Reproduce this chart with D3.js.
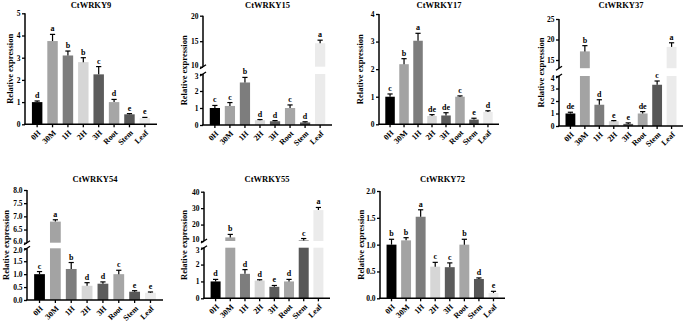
<!DOCTYPE html>
<html><head><meta charset="utf-8">
<script src="https://cdn.jsdelivr.net/npm/d3@7"></script>
<style>body{margin:0;background:#fff}svg{display:block}text{font-family:"Liberation Serif","Times New Roman",serif;font-weight:bold;fill:#000}</style>
</head><body><svg id="c" width="685" height="322"></svg>
<script>
const categories = ["0H","30M","1H","2H","3H","Root","Stem","Leaf"];
const barColors = ["#000000","#a3a3a3","#7d7d7d","#d6d6d6","#5c5c5c","#a6a6a6","#575757","#ebebeb"];

const wrky9 = [1.0,3.75,3.1,2.8,2.25,1.0,0.45,0.28];
const wrky9Err = [0.05,0.3,0.2,0.2,0.35,0.12,0.03,0.03];
const wrky9Sig = ["d","a","b","b","c","d","e","e"];
const wrky15 = [1.0,1.12,2.5,0.28,0.22,1.0,0.15,14.6];
const wrky15Err = [0.15,0.2,0.3,0.04,0.04,0.18,0.04,0.6];
const wrky15Sig = ["c","c","b","d","d","c","d","a"];
const wrky17 = [1.0,2.18,3.03,0.3,0.32,1.0,0.17,0.45];
const wrky17Err = [0.1,0.2,0.27,0.05,0.1,0.03,0.05,0.04];
const wrky17Sig = ["c","b","a","de","de","c","e","d"];
const wrky37 = [1.0,17.1,1.7,0.38,0.17,1.0,3.3,18.2];
const wrky37Err = [0.1,1.4,0.4,0.05,0.08,0.15,0.3,1.0];
const wrky37Sig = ["de","b","d","e","e","de","c","a"];
const wrky54 = [1.0,6.8,1.2,0.55,0.63,1.0,0.32,0.28];
const wrky54Err = [0.1,0.07,0.25,0.12,0.07,0.15,0.04,0.03];
const wrky54Sig = ["c","a","b","d","d","c","e","e"];
const wrky55 = [1.0,12.2,1.45,1.05,0.68,1.0,10.3,28.8];
const wrky55Err = [0.12,1.8,0.25,0.05,0.08,0.12,1.2,1.6];
const wrky55Sig = ["d","b","d","d","e","d","c","a"];
const wrky72 = [1.0,1.08,1.52,0.59,0.58,1.0,0.36,0.1];
const wrky72Err = [0.1,0.05,0.13,0.08,0.08,0.1,0.02,0.03];
const wrky72Sig = ["b","b","a","c","c","b","d","e"];

const ticks9 = [0,1,2,3,4,5];
const ticks15Low = [0,1,2,3], ticks15High = [10,15,20];
const ticks17 = [0,1,2,3,4];
const ticks37Low = [0,1,2,3,4], ticks37High = [15,20,25];
const ticks54Low = [0.0,0.5,1.0,1.5,2.0], ticks54High = [6.0,6.5,7.0,7.5,8.0];
const ticks55Low = [0,1,2,3], ticks55High = [10,20,30,40];
const ticks72 = [0.0,0.5,1.0,1.5,2.0];

// layout
const panels = [
 {title:"CtWRKY9", vals:wrky9, err:wrky9Err, sig:wrky9Sig, x0:25, x1:157, ylab:10,
  segs:[{dom:[0,5], rng:[124.3,13.3], ticks:ticks9, fmt:d3.format("d")}]},
 {title:"CtWRKY15", vals:wrky15, err:wrky15Err, sig:wrky15Sig, x0:203, x1:332, ylab:184,
  segs:[{dom:[0,3], rng:[125,74], ticks:ticks15Low, fmt:d3.format("d")},{dom:[10,20], rng:[66.7,15.7], ticks:ticks15High, fmt:d3.format("d")}]},
 {title:"CtWRKY17", vals:wrky17, err:wrky17Err, sig:wrky17Sig, x0:379, x1:499, ylab:360,
  segs:[{dom:[0,4], rng:[124.3,14], ticks:ticks17, fmt:d3.format("d")}]},
 {title:"CtWRKY37", vals:wrky37, err:wrky37Err, sig:wrky37Sig, x0:559, x1:683, ylab:541,
  segs:[{dom:[0,4], rng:[126,76], ticks:ticks37Low, fmt:d3.format("d")},{dom:[13,25], rng:[68.2,19], ticks:ticks37High, fmt:d3.format("d")}]},
 {title:"CtWRKY54", vals:wrky54, err:wrky54Err, sig:wrky54Sig, x0:27, x1:163, ylab:6,
  segs:[{dom:[0,2], rng:[300,248.3], ticks:ticks54Low, fmt:d3.format(".1f")},{dom:[6,8], rng:[242.7,190], ticks:ticks54High, fmt:d3.format(".1f")}]},
 {title:"CtWRKY55", vals:wrky55, err:wrky55Err, sig:wrky55Sig, x0:204, x1:330, ylab:184,
  segs:[{dom:[0,3], rng:[298.3,247.7], ticks:ticks55Low, fmt:d3.format("d")},{dom:[10,40], rng:[241,191.7], ticks:ticks55High, fmt:d3.format("d")}]},
 {title:"CtWRKY72", vals:wrky72, err:wrky72Err, sig:wrky72Sig, x0:380, x1:505, ylab:361,
  segs:[{dom:[0,2], rng:[298.3,191], ticks:ticks72, fmt:d3.format(".1f")}]}
];

const svg = d3.select("#c");
panels.forEach(p => {
  const g = svg.append("g");
  const segs = p.segs.map(s => ({...s, sc: d3.scaleLinear().domain(s.dom).range(s.rng)}));
  const y0 = segs[0].rng[0];
  const yTop = segs[segs.length-1].rng[1];
  const x = d3.scaleBand().domain(categories).range([p.x0, p.x1]).paddingInner(0.32).paddingOuter(0.45);
  const bw = x.bandwidth();
  categories.forEach((c,i) => {
    const v = p.vals[i];
    let topY, topSeg;
    segs.forEach((s,k) => {
      if (v > s.dom[0]) {
        const hi = Math.min(v, s.dom[1]);
        const yA = s.sc(s.dom[0]), yB = s.sc(hi);
        g.append("rect").attr("x", x(c)).attr("y", yB).attr("width", bw).attr("height", yA - yB).attr("fill", barColors[i]);
        topY = yB; topSeg = s;
      }
    });
    const ye = topSeg.sc(v + p.err[i]);
    const cx = x(c) + bw/2;
    g.append("line").attr("x1",cx).attr("x2",cx).attr("y1",topY).attr("y2",ye).attr("stroke","#000").attr("stroke-width",1.2);
    g.append("line").attr("x1",cx-2.6).attr("x2",cx+2.6).attr("y1",ye).attr("y2",ye).attr("stroke","#000").attr("stroke-width",1.2);
    g.append("text").attr("x",cx).attr("y",ye-3).attr("text-anchor","middle").attr("font-size",8).attr("fill","#000").text(p.sig[i]);
  });
  segs.forEach((s,k) => {
    const ax = d3.axisLeft(s.sc).tickValues(s.ticks).tickFormat(s.fmt).tickSizeOuter(0).tickSize(3).tickPadding(1.5);
    const a = g.append("g").attr("transform",`translate(${p.x0},0)`).call(ax);
    a.select(".domain").attr("stroke-width",1.5).attr("d",`M0,${s.rng[0]}V${s.rng[1]}`);
    a.selectAll(".tick line").attr("stroke-width",1.3);
    a.selectAll(".tick text").attr("font-size",7.5).attr("fill","#000").style("font-family","Liberation Serif").style("font-weight","bold");
    if (segs.length > 1) {
      a.selectAll(".tick text").filter(d => d === (k === 0 ? s.dom[1] : s.dom[0]))
        .attr("dy", k === 0 ? "0.6em" : "0.1em");
    }
  });
  if (segs.length > 1) {
    const yb1 = segs[0].rng[1], yb2 = segs[1].rng[0];
    [yb1, yb2].forEach(yy => {
      g.append("line").attr("x1",p.x0-3).attr("x2",p.x0+3).attr("y1",yy+2).attr("y2",yy-2).attr("stroke","#000").attr("stroke-width",1.3);
    });
  }
  g.append("line").attr("x1",p.x0-0.75).attr("x2",p.x1).attr("y1",y0).attr("y2",y0).attr("stroke","#000").attr("stroke-width",1.5);
  categories.forEach(c => {
    const cx = x(c) + bw/2;
    g.append("line").attr("x1",cx).attr("x2",cx).attr("y1",y0).attr("y2",y0+3).attr("stroke","#000").attr("stroke-width",1.3);
    g.append("text").attr("transform",`translate(${cx+2},${y0+7}) rotate(-45)`).attr("text-anchor","end").attr("dy","0.35em").attr("font-size",8).attr("fill","#000").text(c);
  });
  const tY = p.segs[0].rng[0] > 200 ? 182 : 8;
  g.append("text").attr("x",(p.x0+p.x1)/2).attr("y",tY).attr("text-anchor","middle").attr("font-size",8.5).attr("fill","#000").text(p.title);
  const yMid = (y0 + yTop)/2;
  g.append("text").attr("transform",`translate(${p.ylab+3},${yMid}) rotate(-90)`).attr("text-anchor","middle").attr("font-size",8.5).attr("fill","#000").text("Relative expression");
});
</script></body></html>
